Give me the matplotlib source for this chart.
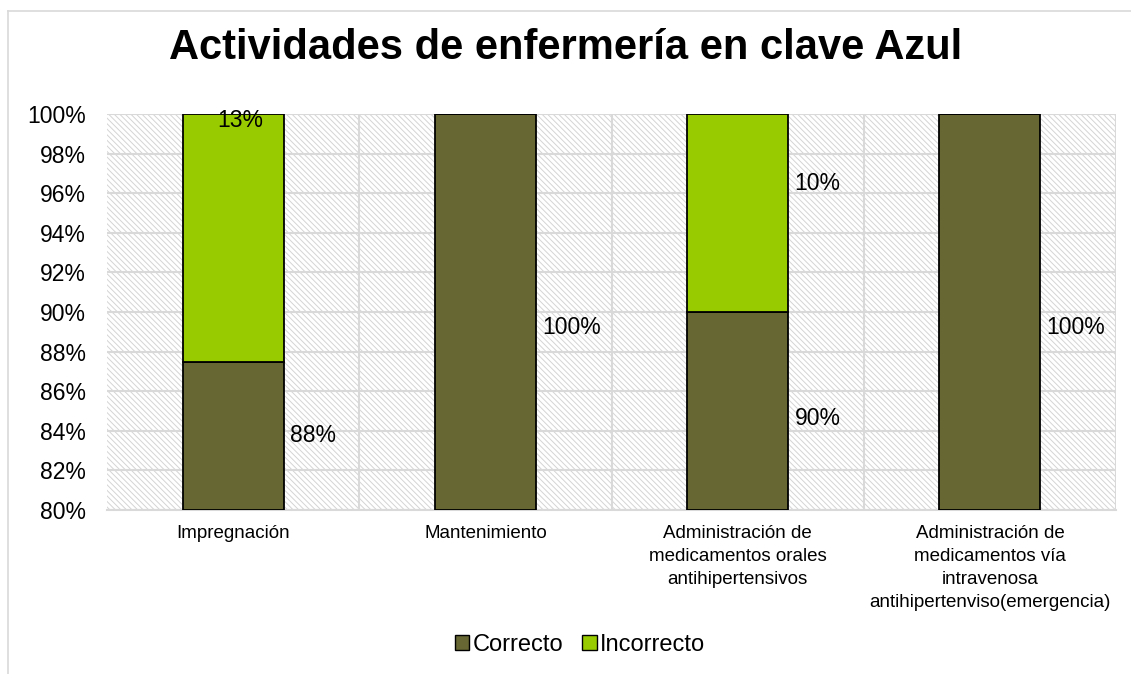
import matplotlib
matplotlib.use("Agg")
import matplotlib.pyplot as plt
from matplotlib.patches import Rectangle, Patch
from matplotlib.lines import Line2D

plt.rcParams['font.family'] = ['Liberation Sans', 'DejaVu Sans']
plt.rcParams['hatch.linewidth'] = 0.7

categories = ["Impregnación", "Mantenimiento",
              "Administración de\nmedicamentos orales\nantihipertensivos",
              "Administración de\nmedicamentos vía\nintravenosa\nantihipertenviso(emergencia)"]
correcto = [87.5, 100, 90, 100]
incorrecto = [12.5, 0, 10, 0]
correcto_labels = ["88%", "100%", "90%", "100%"]
incorrecto_labels = ["13%", "", "10%", ""]
yticks = [80, 82, 84, 86, 88, 90, 92, 94, 96, 98, 100]

c_dark = '#676734'
c_green = '#99CC00'
grid_c = '#d9d9d9'

fig = plt.figure(figsize=(11.31, 6.74), dpi=100)
# chart frame
fig.add_artist(Line2D([8/1131, 8/1131], [0, 1 - 11/674], transform=fig.transFigure, color=grid_c, lw=1.2))
fig.add_artist(Line2D([8/1131, 1], [1 - 11/674, 1 - 11/674], transform=fig.transFigure, color=grid_c, lw=1.2))

ax = fig.add_axes([107/1131, 1 - 510/674, (1116 - 107)/1131, (510 - 114)/674])
ax.set_xlim(-0.5, 3.5)
ax.set_ylim(80, 100)

# hatched background
ax.add_patch(Rectangle((0, 0), 1, 1, transform=ax.transAxes, facecolor='white',
                       edgecolor='#d4d4d4', hatch='\\\\\\\\\\\\', lw=0, zorder=0))
for y in yticks:
    ax.axhline(y, color=grid_c, lw=1.5, zorder=1)
for xb in [0.5, 1.5, 2.5, 3.5]:
    ax.axvline(xb, color=grid_c, lw=1.5, zorder=1)

x = list(range(len(categories)))
w = 0.4
ax.bar(x, [c - 80 for c in correcto], bottom=80, width=w, color=c_dark, edgecolor='black', lw=1.3, zorder=3)
ax.bar(x, incorrecto, bottom=correcto, width=w, color=c_green, edgecolor='black', lw=1.3, zorder=3)

# data labels
fs = 16.5
label_pos_c = [83.75, 89.2, 84.6, 89.2]
for i in range(4):
    ax.text(i + w/2 + 0.025, label_pos_c[i], correcto_labels[i], fontsize=fs, va='center', ha='left', zorder=4)
ax.text(0.03, 99.65, incorrecto_labels[0], fontsize=fs, va='center', ha='center', zorder=4)
ax.text(2 + w/2 + 0.025, 96.5, incorrecto_labels[2], fontsize=fs, va='center', ha='left', zorder=4)

ax.set_yticks(yticks)
ax.set_yticklabels([f"{v}%" for v in yticks], fontsize=fs)
ax.set_xticks(x)
ax.set_xticklabels(categories, fontsize=13.5, linespacing=1.45)
ax.tick_params(axis='y', length=0, pad=15)
ax.tick_params(axis='x', length=0, pad=11)
for s in ['top', 'right', 'left']:
    ax.spines[s].set_visible(False)
ax.spines['bottom'].set_color(grid_c)
ax.spines['bottom'].set_linewidth(1.5)

fig.text(0.5, 1 - 48/674, "Actividades de enfermería en clave Azul", fontsize=30, fontweight='bold',
         ha='center', va='center')

handles = [Patch(facecolor=c_dark, edgecolor='black', label='Correcto'),
           Patch(facecolor=c_green, edgecolor='black', label='Incorrecto')]
fig.legend(handles=handles, loc='center', bbox_to_anchor=(0.513, 1 - 645/674), ncol=2, frameon=False,
           fontsize=17, handlelength=0.6, handleheight=0.6, handletextpad=0.15, columnspacing=0.8,
           borderaxespad=0)

fig.savefig("out.png", dpi=100)
